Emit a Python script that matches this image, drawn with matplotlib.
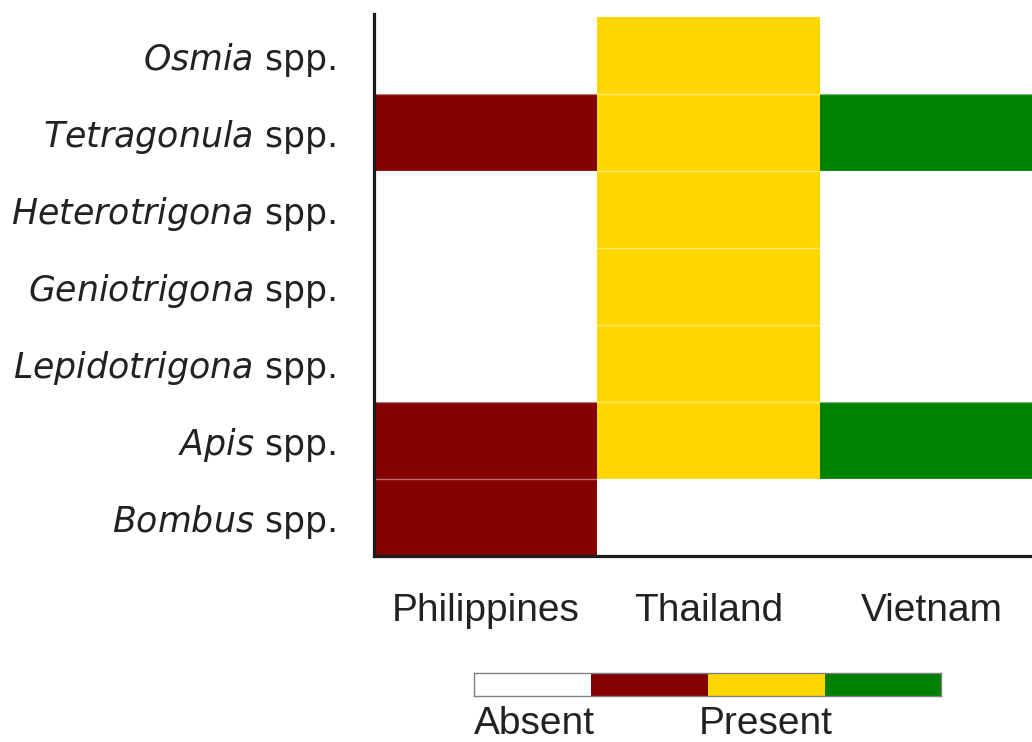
import matplotlib
matplotlib.use("Agg")
import matplotlib.pyplot as plt
import numpy as np
from matplotlib.colors import ListedColormap, BoundaryNorm

# ---- data ----
genera = ["Osmia", "Tetragonula", "Heterotrigona", "Geniotrigona",
          "Lepidotrigona", "Apis", "Bombus"]
countries = ["Philippines", "Thailand", "Vietnam"]
philippines = [0, 1, 0, 0, 0, 1, 1]
thailand = [1, 1, 1, 1, 1, 1, 0]
vietnam = [0, 1, 0, 0, 0, 1, 0]
colors = ["#FFFFFF", "#850000", "#FFD700", "#008000"]
legend_labels = ["Absent", "Present"]

plt.rcParams["mathtext.fontset"] = "dejavusans"

presence = np.array([philippines, thailand, vietnam]).T  # rows=genera, cols=countries
values = presence * (np.arange(len(countries)) + 1)

cmap = ListedColormap(colors)
norm = BoundaryNorm(np.arange(len(colors) + 1) - 0.5, len(colors))

W, H = 1032, 742
fig = plt.figure(figsize=(W / 100, H / 100), dpi=100)
ax = fig.add_axes([374 / W, 1 - 556 / H, 669 / W, 542 / H])

ax.pcolormesh(np.arange(len(countries) + 1), np.arange(len(genera) + 1), values,
              cmap=cmap, norm=norm)
for y in range(1, len(genera)):
    ax.axhline(y, color="white", lw=1.0, alpha=0.45)
ax.set_xlim(0, len(countries))
ax.set_ylim(len(genera), -0.04)

for s in ["top", "right"]:
    ax.spines[s].set_visible(False)
for s in ["left", "bottom"]:
    ax.spines[s].set_linewidth(2.3)
    ax.spines[s].set_color("#1a1a1a")

ax.set_yticks(np.arange(len(genera)) + 0.5)
ax.set_yticklabels([r"$\mathit{%s}$ spp." % g for g in genera],
                   fontsize=25, color="#222222", family="DejaVu Sans")
ax.set_xticks(np.arange(len(countries)) + 0.5)
ax.set_xticklabels(countries, fontsize=28, color="#222222", family="Liberation Sans")
ax.tick_params(axis="y", length=0, pad=27.5)
ax.tick_params(axis="x", length=0, pad=26.5)

# ---- colour legend ----
cax = fig.add_axes([474 / W, 1 - 696 / H, 467 / W, 23 / H])
cax.imshow(np.arange(len(colors))[None, :], cmap=cmap, norm=norm, aspect="auto")
cax.set_xticks([])
cax.set_yticks([])
for s in cax.spines.values():
    s.set_color("#808080")
    s.set_linewidth(1.0)

fig.text(474 / W, 1 - 724 / H, legend_labels[0], ha="left", va="center",
         fontsize=28, color="#222222", family="Liberation Sans")
fig.text(766 / W, 1 - 724 / H, legend_labels[1], ha="center", va="center",
         fontsize=28, color="#222222", family="Liberation Sans")

fig.savefig("out.png", dpi=100, facecolor="white")
